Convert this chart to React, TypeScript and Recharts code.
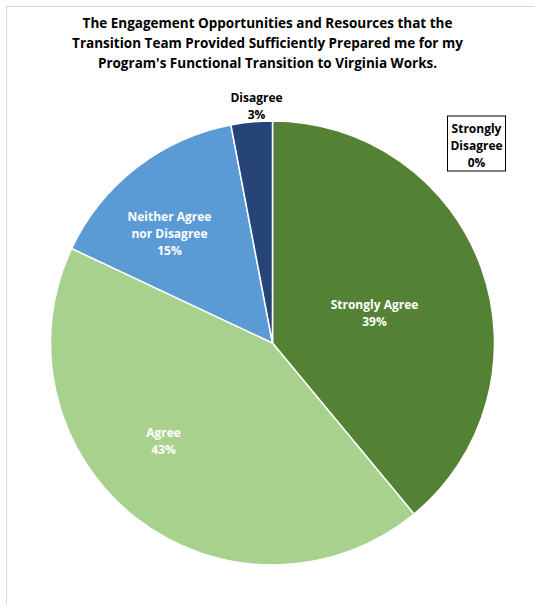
import React from "react";
import { PieChart, Pie, Cell } from "recharts";

const categories = ["Strongly Agree", "Agree", "Neither Agree nor Disagree", "Disagree", "Strongly Disagree"];
const percents = [39, 43, 15, 3, 0];
const labelLines = [
  ["Strongly Agree"],
  ["Agree"],
  ["Neither Agree", "nor Disagree"],
  ["Disagree"],
  ["Strongly", "Disagree"],
];

const COLORS = ["#548235", "#A9D18E", "#5B9BD5", "#264478", "#1F3864"];
const TEXT_COLORS = ["#fff", "#fff", "#fff", "#000", "#000"];
// label centres relative to the pie centre
const LABEL_OFFSETS = [
  { dx: 102, dy: -30 },
  { dx: -109, dy: 98 },
  { dx: -103, dy: -110 },
  { dx: -16, dy: -237 },
  { dx: 204, dy: -198 },
];

const FONT = "'Open Sans', 'Noto Sans', sans-serif";
const LINE_H = 17;

const data = categories.map((name, i) => ({ name, value: percents[i] }));

function renderLabel(props: any) {
  const { cx, cy, index, value } = props;
  const off = LABEL_OFFSETS[index];
  const x = cx + off.dx;
  const y = cy + off.dy;
  const lines = [...labelLines[index], `${value}%`];
  const top = y - ((lines.length - 1) * LINE_H) / 2;
  return (
    <g key={`lbl-${index}`}>
      {value === 0 && (
        <rect x={x - 29} y={top - 12} width={58} height={lines.length * LINE_H + 4} fill="#fff" stroke="#000" strokeWidth={1} />
      )}
      {lines.map((t, j) => (
        <text
          key={j}
          x={x}
          y={top + j * LINE_H}
          textAnchor="middle"
          dominantBaseline="central"
          fill={TEXT_COLORS[index]}
          fontFamily={FONT}
          fontWeight="bold"
          fontSize={12}
        >
          {t}
        </text>
      ))}
    </g>
  );
}

export default function App() {
  return (
    <div style={{ position: "absolute", left: 0, top: 0, width: 535, height: 605, overflow: "hidden", background: "#fff" }}>
      <div style={{ position: "absolute", left: 6, top: 6, width: 600, height: 700, border: "1px solid #d9d9d9", boxSizing: "border-box" }} />
      <div
        style={{
          position: "absolute",
          left: 0,
          top: 13,
          width: 535,
          textAlign: "center",
          fontFamily: FONT,
          fontWeight: "bold",
          fontSize: 13.5,
          lineHeight: "20px",
          color: "#000",
        }}
      >
        The Engagement Opportunities and Resources that the
        <br />
        Transition Team Provided Sufficiently Prepared me for my
        <br />
        Program's Functional Transition to Virginia Works.
      </div>
      <div style={{ position: "absolute", left: 0, top: 0 }}>
        <PieChart width={535} height={605} margin={{ top: 0, right: 0, bottom: 0, left: 0 }}>
          <Pie
            data={data}
            dataKey="value"
            nameKey="name"
            cx={272.5}
            cy={343}
            outerRadius={222}
            startAngle={90}
            endAngle={-270}
            stroke="#fff"
            strokeWidth={1.5}
            labelLine={false}
            label={renderLabel}
            isAnimationActive={false}
          >
            {data.map((d, i) => (
              <Cell key={d.name} fill={COLORS[i]} />
            ))}
          </Pie>
        </PieChart>
      </div>
    </div>
  );
}
